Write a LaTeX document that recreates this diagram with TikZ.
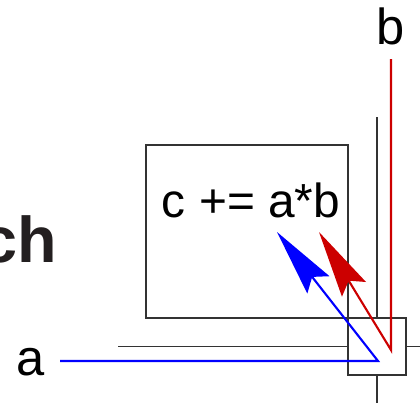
\documentclass[tikz,border=0pt]{standalone}
\usepackage{fontspec}
\setmainfont{Liberation Sans}
\usetikzlibrary{arrows.meta}
\definecolor{ink}{HTML}{231F20}
\definecolor{edge}{HTML}{333333}
\definecolor{redwire}{HTML}{CC0000}

\begin{document}
\begin{tikzpicture}[x=0.025cm,y=-0.025cm,
  >={Stealth[length=1.675cm,width=0.7cm,inset=0.25cm]},
  grid/.style={draw=edge,line width=0.9pt},
  flow/.style={->,line width=1.5pt}]
\useasboundingbox (0,0) rectangle (420,403);
% labels
\node[inner sep=0,text=ink,font=\bfseries\fontsize{46}{50}\selectfont,anchor=base east] (title) at (57,262) {ch};
\node[inner sep=0,font=\fontsize{36}{40}\selectfont] (a) at (31,362.5) {a};
\node[inner sep=0,font=\fontsize{36}{40}\selectfont] (b) at (391,26.5) {b};
% boxes
\node[grid,inner sep=0,minimum width=5.05cm,minimum height=4.325cm] (pe) at (247,231.5) {};
\node[inner sep=0,font=\fontsize{34}{38}\selectfont,anchor=base] (op) at (251,217) {c += a*b};
\node[grid,inner sep=0,minimum width=1.45cm,minimum height=1.425cm] (cell) at (377,346.5) {};
% grid lines
\coordinate (hin) at (118,346.5);
\coordinate (hout) at (420,346.5);
\coordinate (vin) at (377,117);
\coordinate (vout) at (377,403);
\draw[grid] (hin) -- (cell.west) (cell.east) -- (hout);
\draw[grid] (vin) -- (cell.north) (cell.south) -- (vout);
% operands
\coordinate (ain) at (60,361);
\coordinate (aturn) at (378,361);
\coordinate (atip) at (277,232);
\coordinate (bin) at (391,59);
\coordinate (bturn) at (391,350);
\coordinate (btip) at (319,232);
\draw[flow,blue] (ain) -- (aturn) -- (atip);
\draw[flow,redwire] (bin) -- (bturn) -- (btip);
\end{tikzpicture}
\end{document}
